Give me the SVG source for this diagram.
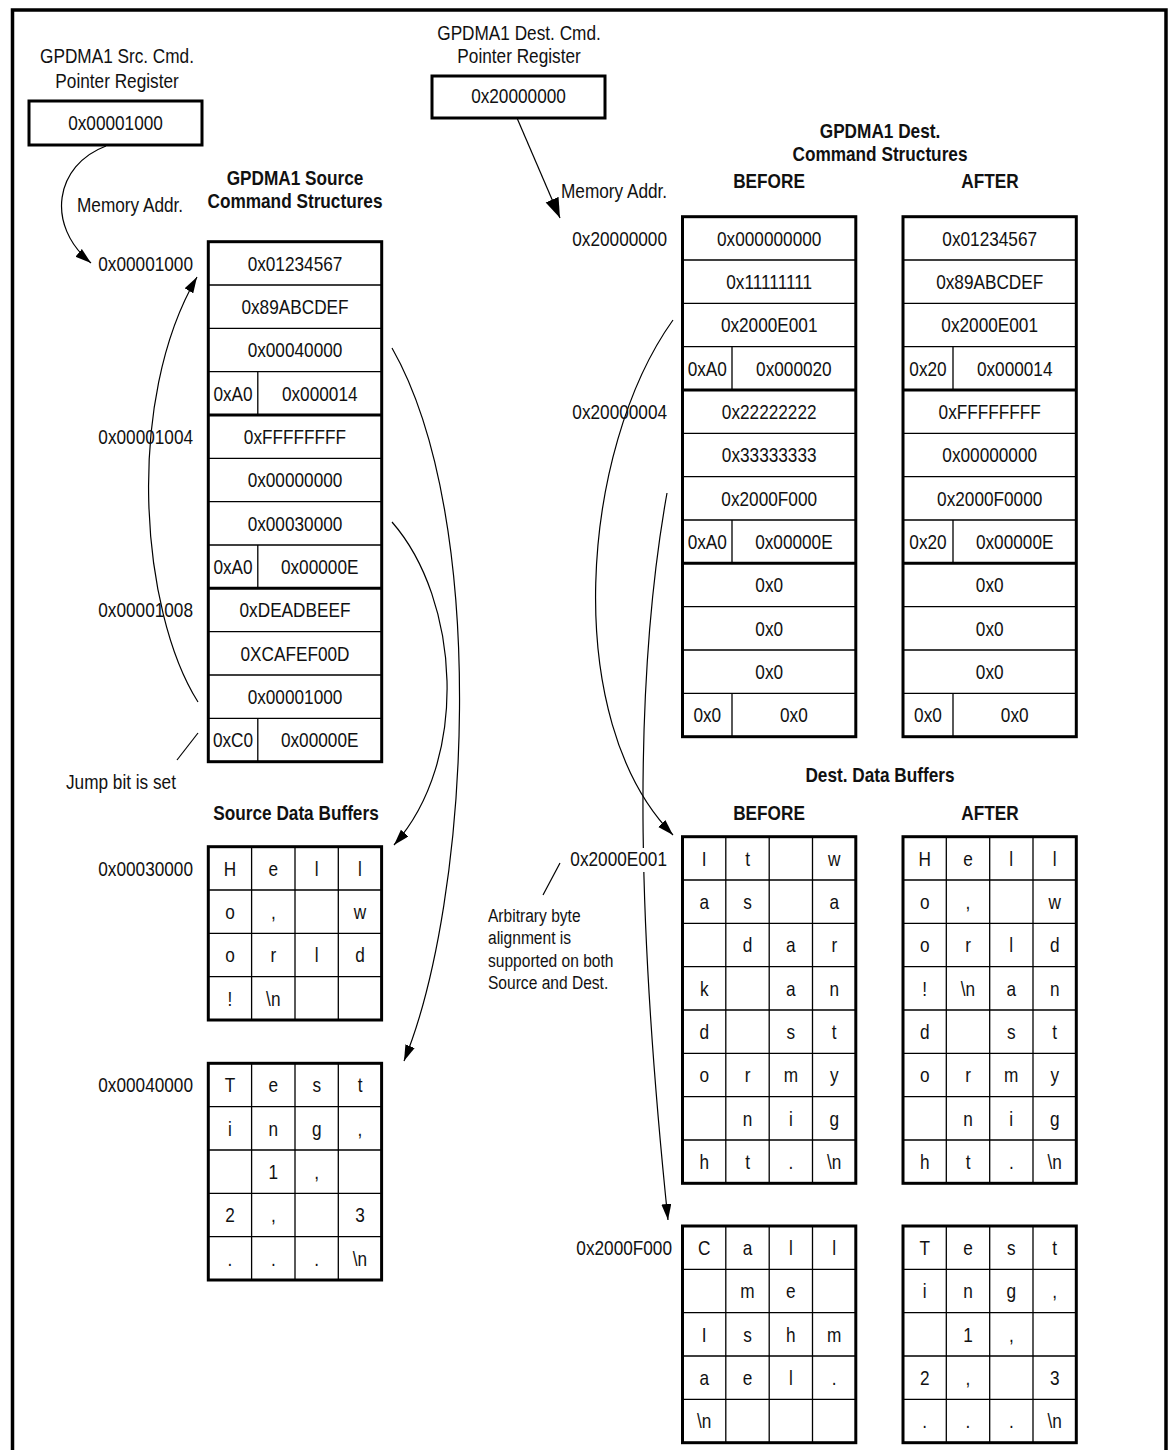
<svg xmlns="http://www.w3.org/2000/svg" width="1172" height="1450" viewBox="0 0 1172 1450">
<style>
text{font-family:"Liberation Sans",Arial,sans-serif;font-size:21px;fill:#111;transform-box:fill-box;transform-origin:left center;transform:scaleX(0.82)}
.c{text-anchor:middle;transform-origin:center}
.r{text-anchor:end;transform-origin:right center}
.b{font-weight:bold}
.n{font-size:19px}
.box{fill:#fff;stroke:#000;stroke-width:3}
.thin{stroke:#000;stroke-width:1.3;fill:none}
.thick{stroke:#000;stroke-width:3;fill:none}
.conn{fill:none;stroke:#000;stroke-width:1.2}
</style>
<defs>
<marker id="ah" markerUnits="userSpaceOnUse" markerWidth="17" markerHeight="11" refX="16" refY="5" orient="auto"><path d="M0,0 L16,5 L0,10 z" fill="#000"/></marker>
<marker id="ahb" markerUnits="userSpaceOnUse" markerWidth="21" markerHeight="15" refX="20" refY="7" orient="auto"><path d="M0,0 L20,7 L0,14 z" fill="#000"/></marker>
</defs>
<rect width="1172" height="1450" fill="#fff"/>
<path d="M12.5,1450 V10 H1166 V1450" fill="none" stroke="#000" stroke-width="3.5"/>

<g id="connectors">
<path class="conn" d="M106,146 C55,165 45,225 91,263" marker-end="url(#ah)"/>
<path class="conn" d="M198,702 C140,610 125,400 197,277" marker-end="url(#ah)"/>
<path class="conn" d="M392,348 C490,520 470,900 404,1061" marker-end="url(#ah)"/>
<path class="conn" d="M392,522 C460,600 470,760 394,845" marker-end="url(#ah)"/>
<path class="conn" d="M517,118 L560,218" marker-end="url(#ahb)"/>
<path class="conn" d="M673,320 C580,450 560,720 673,835" marker-end="url(#ah)"/>
<path class="conn" d="M667,493 C630,700 640,950 668,1220" marker-end="url(#ah)"/>
<path class="conn" d="M177,760 L198,733"/>
<path class="conn" d="M543,895 L560,863"/>
</g>

<g id="src-reg">
<text class="c" x="117" y="63">GPDMA1 Src. Cmd.</text>
<text class="c" x="117" y="88">Pointer Register</text>
<rect class="box" x="29" y="101" width="173" height="44"/>
<text class="c" x="115.5" y="130.5">0x00001000</text>
</g>

<g id="dst-reg">
<text class="c" x="519" y="40">GPDMA1 Dest. Cmd.</text>
<text class="c" x="519" y="63">Pointer Register</text>
<rect class="box" x="432" y="76" width="173" height="42"/>
<text class="c" x="518.5" y="103.5">0x20000000</text>
</g>

<g id="labels">
<text class="c b" x="295" y="185.5">GPDMA1 Source</text>
<text class="c b" x="295" y="208.5">Command Structures</text>
<text x="77" y="212">Memory Addr.</text>
<text x="561" y="198">Memory Addr.</text>
<text class="c b" x="880" y="138">GPDMA1 Dest.</text>
<text class="c b" x="880" y="161">Command Structures</text>
<text class="c b" x="769" y="188">BEFORE</text>
<text class="c b" x="990" y="188">AFTER</text>
<text class="r" x="193" y="270.7">0x00001000</text>
<text class="r" x="193" y="444">0x00001004</text>
<text class="r" x="193" y="617.3">0x00001008</text>
<text class="r" x="667" y="245.7">0x20000000</text>
<text class="r" x="667" y="419">0x20000004</text>
<text x="66" y="789">Jump bit is set</text>
<text class="c b" x="296" y="820">Source Data Buffers</text>
<text class="r" x="193" y="875.7">0x00030000</text>
<text class="r" x="193" y="1092.3">0x00040000</text>
<text class="c b" x="880" y="782">Dest. Data Buffers</text>
<text class="c b" x="769" y="820">BEFORE</text>
<text class="c b" x="990" y="820">AFTER</text>
<rect x="569" y="848" width="99" height="24" fill="#fff"/>
<text class="r" x="667" y="865.7">0x2000E001</text>
<text class="r" x="672" y="1255">0x2000F000</text>
<text class="n" x="488" y="922">Arbitrary byte</text>
<text class="n" x="488" y="944.5">alignment is</text>
<text class="n" x="488" y="967">supported on both</text>
<text class="n" x="488" y="989.5">Source and Dest.</text>
</g>

<g id="src-cmd">
<rect class="box" x="208.3" y="241.7" width="173.4" height="520"/>
<path class="thin" d="M208.3,285H381.7M208.3,328.3H381.7M208.3,371.7H381.7M208.3,458.3H381.7M208.3,501.7H381.7M208.3,545H381.7M208.3,631.7H381.7M208.3,675H381.7M208.3,718.3H381.7M257.8,371.7V415M257.8,545V588.3M257.8,718.3V761.7"/>
<path class="thick" d="M208.3,415H381.7M208.3,588.3H381.7"/>
<text class="c" x="295" y="270.7">0x01234567</text>
<text class="c" x="295" y="314">0x89ABCDEF</text>
<text class="c" x="295" y="357.3">0x00040000</text>
<text class="c" x="233" y="400.7">0xA0</text>
<text class="c" x="319.7" y="400.7">0x000014</text>
<text class="c" x="295" y="444">0xFFFFFFFF</text>
<text class="c" x="295" y="487.3">0x00000000</text>
<text class="c" x="295" y="530.7">0x00030000</text>
<text class="c" x="233" y="574">0xA0</text>
<text class="c" x="319.7" y="574">0x00000E</text>
<text class="c" x="295" y="617.3">0xDEADBEEF</text>
<text class="c" x="295" y="660.7">0XCAFEF00D</text>
<text class="c" x="295" y="704">0x00001000</text>
<text class="c" x="233" y="747.3">0xC0</text>
<text class="c" x="319.7" y="747.3">0x00000E</text>
</g>

<g id="dst-cmd-before">
<rect class="box" x="682.5" y="216.7" width="173.3" height="520"/>
<path class="thin" d="M682.5,260H855.8M682.5,303.3H855.8M682.5,346.7H855.8M682.5,433.3H855.8M682.5,476.7H855.8M682.5,520H855.8M682.5,606.7H855.8M682.5,650H855.8M682.5,693.3H855.8M732,346.7V390M732,520V563.3M732,693.3V736.7"/>
<path class="thick" d="M682.5,390H855.8M682.5,563.3H855.8"/>
<text class="c" x="769.2" y="245.7">0x000000000</text>
<text class="c" x="769.2" y="289">0x11111111</text>
<text class="c" x="769.2" y="332.3">0x2000E001</text>
<text class="c" x="707.3" y="375.7">0xA0</text>
<text class="c" x="793.9" y="375.7">0x000020</text>
<text class="c" x="769.2" y="419">0x22222222</text>
<text class="c" x="769.2" y="462.3">0x33333333</text>
<text class="c" x="769.2" y="505.7">0x2000F000</text>
<text class="c" x="707.3" y="549">0xA0</text>
<text class="c" x="793.9" y="549">0x00000E</text>
<text class="c" x="769.2" y="592.3">0x0</text>
<text class="c" x="769.2" y="635.7">0x0</text>
<text class="c" x="769.2" y="679">0x0</text>
<text class="c" x="707.3" y="722.3">0x0</text>
<text class="c" x="793.9" y="722.3">0x0</text>
</g>

<g id="dst-cmd-after">
<rect class="box" x="903" y="216.7" width="173.3" height="520"/>
<path class="thin" d="M903,260H1076.3M903,303.3H1076.3M903,346.7H1076.3M903,433.3H1076.3M903,476.7H1076.3M903,520H1076.3M903,606.7H1076.3M903,650H1076.3M903,693.3H1076.3M953,346.7V390M953,520V563.3M953,693.3V736.7"/>
<path class="thick" d="M903,390H1076.3M903,563.3H1076.3"/>
<text class="c" x="989.7" y="245.7">0x01234567</text>
<text class="c" x="989.7" y="289">0x89ABCDEF</text>
<text class="c" x="989.7" y="332.3">0x2000E001</text>
<text class="c" x="928" y="375.7">0x20</text>
<text class="c" x="1014.7" y="375.7">0x000014</text>
<text class="c" x="989.7" y="419">0xFFFFFFFF</text>
<text class="c" x="989.7" y="462.3">0x00000000</text>
<text class="c" x="989.7" y="505.7">0x2000F0000</text>
<text class="c" x="928" y="549">0x20</text>
<text class="c" x="1014.7" y="549">0x00000E</text>
<text class="c" x="989.7" y="592.3">0x0</text>
<text class="c" x="989.7" y="635.7">0x0</text>
<text class="c" x="989.7" y="679">0x0</text>
<text class="c" x="928" y="722.3">0x0</text>
<text class="c" x="1014.7" y="722.3">0x0</text>
</g>

<g id="src-buf-30000">
<rect class="box" x="208.3" y="846.7" width="173.3" height="173.3"/>
<path class="thin" d="M251.6,846.7V1020M295,846.7V1020M338.3,846.7V1020M208.3,890H381.6M208.3,933.3H381.6M208.3,976.7H381.6"/>
<text class="c" x="230" y="875.7">H</text><text class="c" x="273.3" y="875.7">e</text><text class="c" x="316.7" y="875.7">l</text><text class="c" x="360" y="875.7">l</text>
<text class="c" x="230" y="919">o</text><text class="c" x="273.3" y="919">,</text><text class="c" x="360" y="919">w</text>
<text class="c" x="230" y="962.3">o</text><text class="c" x="273.3" y="962.3">r</text><text class="c" x="316.7" y="962.3">l</text><text class="c" x="360" y="962.3">d</text>
<text class="c" x="230" y="1005.7">!</text><text class="c" x="273.3" y="1005.7">\n</text>
</g>

<g id="src-buf-40000">
<rect class="box" x="208.3" y="1063.3" width="173.3" height="216.7"/>
<path class="thin" d="M251.6,1063.3V1280M295,1063.3V1280M338.3,1063.3V1280M208.3,1106.7H381.6M208.3,1150H381.6M208.3,1193.3H381.6M208.3,1236.7H381.6"/>
<text class="c" x="230" y="1092.3">T</text><text class="c" x="273.3" y="1092.3">e</text><text class="c" x="316.7" y="1092.3">s</text><text class="c" x="360" y="1092.3">t</text>
<text class="c" x="230" y="1135.7">i</text><text class="c" x="273.3" y="1135.7">n</text><text class="c" x="316.7" y="1135.7">g</text><text class="c" x="360" y="1135.7">,</text>
<text class="c" x="273.3" y="1179">1</text><text class="c" x="316.7" y="1179">,</text>
<text class="c" x="230" y="1222.3">2</text><text class="c" x="273.3" y="1222.3">,</text><text class="c" x="360" y="1222.3">3</text>
<text class="c" x="230" y="1265.7">.</text><text class="c" x="273.3" y="1265.7">.</text><text class="c" x="316.7" y="1265.7">.</text><text class="c" x="360" y="1265.7">\n</text>
</g>

<g id="dst-buf-e001-before">
<rect class="box" x="682.5" y="836.7" width="173.3" height="346.6"/>
<path class="thin" d="M725.8,836.7V1183.3M769.2,836.7V1183.3M812.5,836.7V1183.3M682.5,880H855.8M682.5,923.3H855.8M682.5,966.7H855.8M682.5,1010H855.8M682.5,1053.3H855.8M682.5,1096.7H855.8M682.5,1140H855.8"/>
<text class="c" x="704.2" y="865.7">I</text><text class="c" x="747.5" y="865.7">t</text><text class="c" x="834.2" y="865.7">w</text>
<text class="c" x="704.2" y="909">a</text><text class="c" x="747.5" y="909">s</text><text class="c" x="834.2" y="909">a</text>
<text class="c" x="747.5" y="952.3">d</text><text class="c" x="790.8" y="952.3">a</text><text class="c" x="834.2" y="952.3">r</text>
<text class="c" x="704.2" y="995.7">k</text><text class="c" x="790.8" y="995.7">a</text><text class="c" x="834.2" y="995.7">n</text>
<text class="c" x="704.2" y="1039">d</text><text class="c" x="790.8" y="1039">s</text><text class="c" x="834.2" y="1039">t</text>
<text class="c" x="704.2" y="1082.3">o</text><text class="c" x="747.5" y="1082.3">r</text><text class="c" x="790.8" y="1082.3">m</text><text class="c" x="834.2" y="1082.3">y</text>
<text class="c" x="747.5" y="1125.7">n</text><text class="c" x="790.8" y="1125.7">i</text><text class="c" x="834.2" y="1125.7">g</text>
<text class="c" x="704.2" y="1169">h</text><text class="c" x="747.5" y="1169">t</text><text class="c" x="790.8" y="1169">.</text><text class="c" x="834.2" y="1169">\n</text>
</g>

<g id="dst-buf-e001-after">
<rect class="box" x="903" y="836.7" width="173.3" height="346.6"/>
<path class="thin" d="M946.3,836.7V1183.3M989.7,836.7V1183.3M1033,836.7V1183.3M903,880H1076.3M903,923.3H1076.3M903,966.7H1076.3M903,1010H1076.3M903,1053.3H1076.3M903,1096.7H1076.3M903,1140H1076.3"/>
<text class="c" x="924.7" y="865.7">H</text><text class="c" x="968" y="865.7">e</text><text class="c" x="1011.3" y="865.7">l</text><text class="c" x="1054.7" y="865.7">l</text>
<text class="c" x="924.7" y="909">o</text><text class="c" x="968" y="909">,</text><text class="c" x="1054.7" y="909">w</text>
<text class="c" x="924.7" y="952.3">o</text><text class="c" x="968" y="952.3">r</text><text class="c" x="1011.3" y="952.3">l</text><text class="c" x="1054.7" y="952.3">d</text>
<text class="c" x="924.7" y="995.7">!</text><text class="c" x="968" y="995.7">\n</text><text class="c" x="1011.3" y="995.7">a</text><text class="c" x="1054.7" y="995.7">n</text>
<text class="c" x="924.7" y="1039">d</text><text class="c" x="1011.3" y="1039">s</text><text class="c" x="1054.7" y="1039">t</text>
<text class="c" x="924.7" y="1082.3">o</text><text class="c" x="968" y="1082.3">r</text><text class="c" x="1011.3" y="1082.3">m</text><text class="c" x="1054.7" y="1082.3">y</text>
<text class="c" x="968" y="1125.7">n</text><text class="c" x="1011.3" y="1125.7">i</text><text class="c" x="1054.7" y="1125.7">g</text>
<text class="c" x="924.7" y="1169">h</text><text class="c" x="968" y="1169">t</text><text class="c" x="1011.3" y="1169">.</text><text class="c" x="1054.7" y="1169">\n</text>
</g>

<g id="dst-buf-f000-before">
<rect class="box" x="682.5" y="1226" width="173.3" height="216.7"/>
<path class="thin" d="M725.8,1226V1442.7M769.2,1226V1442.7M812.5,1226V1442.7M682.5,1269.3H855.8M682.5,1312.7H855.8M682.5,1356H855.8M682.5,1399.3H855.8"/>
<text class="c" x="704.2" y="1255">C</text><text class="c" x="747.5" y="1255">a</text><text class="c" x="790.8" y="1255">l</text><text class="c" x="834.2" y="1255">l</text>
<text class="c" x="747.5" y="1298.3">m</text><text class="c" x="790.8" y="1298.3">e</text>
<text class="c" x="704.2" y="1341.7">I</text><text class="c" x="747.5" y="1341.7">s</text><text class="c" x="790.8" y="1341.7">h</text><text class="c" x="834.2" y="1341.7">m</text>
<text class="c" x="704.2" y="1385">a</text><text class="c" x="747.5" y="1385">e</text><text class="c" x="790.8" y="1385">l</text><text class="c" x="834.2" y="1385">.</text>
<text class="c" x="704.2" y="1428.3">\n</text>
</g>

<g id="dst-buf-f000-after">
<rect class="box" x="903" y="1226" width="173.3" height="216.7"/>
<path class="thin" d="M946.3,1226V1442.7M989.7,1226V1442.7M1033,1226V1442.7M903,1269.3H1076.3M903,1312.7H1076.3M903,1356H1076.3M903,1399.3H1076.3"/>
<text class="c" x="924.7" y="1255">T</text><text class="c" x="968" y="1255">e</text><text class="c" x="1011.3" y="1255">s</text><text class="c" x="1054.7" y="1255">t</text>
<text class="c" x="924.7" y="1298.3">i</text><text class="c" x="968" y="1298.3">n</text><text class="c" x="1011.3" y="1298.3">g</text><text class="c" x="1054.7" y="1298.3">,</text>
<text class="c" x="968" y="1341.7">1</text><text class="c" x="1011.3" y="1341.7">,</text>
<text class="c" x="924.7" y="1385">2</text><text class="c" x="968" y="1385">,</text><text class="c" x="1054.7" y="1385">3</text>
<text class="c" x="924.7" y="1428.3">.</text><text class="c" x="968" y="1428.3">.</text><text class="c" x="1011.3" y="1428.3">.</text><text class="c" x="1054.7" y="1428.3">\n</text>
</g>
</svg>
